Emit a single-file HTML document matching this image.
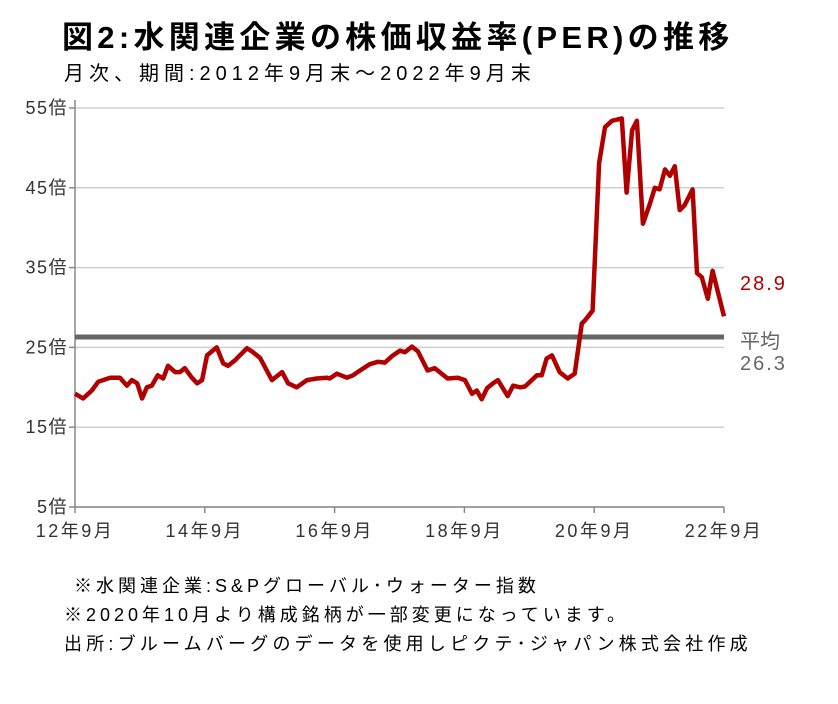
<!DOCTYPE html>
<html><head><meta charset="utf-8">
<style>
body{margin:0;background:#fff;width:838px;height:704px;overflow:hidden;font-family:"Liberation Sans","Noto Sans CJK JP",sans-serif;}
svg{display:block}
</style></head><body>
<svg width="838" height="704">
<text x="62" y="48" font-size="31" font-weight="bold" letter-spacing="4.3" fill="#000">図2:水関連企業の株価収益率(PER)の推移</text>
<text x="64" y="80" font-size="20" letter-spacing="5" fill="#000">月次、期間:2012年9月末～2022年9月末</text>
<g id="grid"></g><g id="axes"></g><g id="series"></g>
<text x="740" y="290" font-size="20" letter-spacing="2" fill="#b00000">28.9</text>
<text x="740" y="348" font-size="20" fill="#666">平均</text>
<text x="740" y="370" font-size="20" letter-spacing="2" fill="#666">26.3</text>
<text x="74" y="592" font-size="18" letter-spacing="4">※水関連企業:S&amp;Pグローバル･ウォーター指数</text>
<text x="64" y="621" font-size="18" letter-spacing="4">※2020年10月より構成銘柄が一部変更になっています。</text>
<text x="64" y="650" font-size="18" letter-spacing="4.2">出所:ブルームバーグのデータを使用しピクテ･ジャパン株式会社作成</text>
</svg>
<script>
const yTicks=[5,15,25,35,45,55];
const xTickMonths=[0,24,48,72,96,120];
const xTickLabels=["12年9月","14年9月","16年9月","18年9月","20年9月","22年9月"];
const months=[0,1.5,3.1,4.3,6.5,8.3,9.6,10.5,11.5,12.4,13.3,14.2,15.3,16.3,17.2,18.5,19.4,20.3,21.6,22.6,23.5,24.4,26.2,27.4,28.3,29.6,31.8,32.7,34.2,36.4,38.3,39.4,41.0,42.9,44.7,46.6,47.1,48.4,50.3,51.4,52.7,54.5,56.0,57.3,58.6,60.1,61.0,62.3,63.4,65.2,66.5,68.9,70.8,72.1,73.4,74.3,75.2,76.2,77.3,78.2,80.0,81.0,82.3,83.2,85.4,86.3,87.2,88.2,89.6,91.1,92.4,93.7,94.3,95.7,96.9,98.0,99.3,101.1,102.0,103.0,103.9,105.0,106.3,107.2,108.1,109.1,110.0,110.9,111.8,112.7,114.2,115.0,115.9,117.0,117.9,120];
const perValues=[19.2,18.6,19.6,20.7,21.2,21.2,20.2,20.9,20.5,18.6,20.0,20.2,21.5,21.1,22.7,21.9,21.9,22.4,21.2,20.5,20.9,24.0,25.0,23.0,22.7,23.4,24.9,24.5,23.7,20.9,21.9,20.5,20.0,20.9,21.1,21.2,21.1,21.7,21.2,21.5,22.1,22.9,23.2,23.1,23.9,24.6,24.4,25.1,24.5,22.1,22.4,21.1,21.2,20.9,19.2,19.6,18.5,19.9,20.5,20.9,18.9,20.2,20.0,20.1,21.5,21.5,23.6,24.0,21.9,21.1,21.7,28.0,28.4,29.6,48.1,52.6,53.4,53.7,44.4,52.2,53.4,40.5,43.0,45.0,44.8,47.3,46.5,47.7,42.2,42.8,44.8,34.3,33.8,31.1,34.6,28.9];
const average=[26.3];
const X0=75,X1=724,Y0=507,Y1=108;
const xs=m=>X0+(X1-X0)*m/120;
const ys=v=>Y0-(Y0-Y1)*(v-5)/50;
const NS="http://www.w3.org/2000/svg";
function mk(p,t,a){const e=document.createElementNS(NS,t);for(const k in a)e.setAttribute(k,a[k]);p.appendChild(e);return e;}
const grid=document.getElementById('grid'),axes=document.getElementById('axes'),ser=document.getElementById('series');
yTicks.forEach(v=>{
 const l=mk(grid,'line',{x1:X0,x2:X1,y1:ys(v),y2:ys(v),stroke:'#d0d0d0','stroke-width':1.5});
 
 
 const tk=mk(axes,'line',{x1:X0-6,x2:X0,y1:ys(v),y2:ys(v),stroke:'#888','stroke-width':1.5});
 
 
 const t=mk(axes,'text',{x:X0-7,y:ys(v)+6,'text-anchor':'end','font-size':18,'letter-spacing':1.5,fill:'#333'});
 t.textContent=v+'倍';
 
 
});
const ya=mk(axes,'line',{x1:X0,x2:X0,y1:Y1-8,y2:Y0,stroke:'#888','stroke-width':1.5});


const xa=mk(axes,'line',{x1:X0,x2:X1,y1:Y0,y2:Y0,stroke:'#888','stroke-width':1.5});


xTickMonths.forEach((m,i)=>{
 const tk=mk(axes,'line',{x1:xs(m),x2:xs(m),y1:Y0,y2:Y0+6,stroke:'#888','stroke-width':1.5});
 
 
 const t=mk(axes,'text',{x:xs(m),y:Y0+30,'text-anchor':'middle','font-size':18,'letter-spacing':2.5,fill:'#333'});
 t.textContent=xTickLabels[i];
 
 
});
const avg=mk(ser,'line',{x1:X0,x2:X1,y1:ys(average[0]),y2:ys(average[0]),stroke:'#666','stroke-width':5});


const pts=months.map((m,i)=>xs(m).toFixed(1)+','+ys(perValues[i]).toFixed(1)).join(' ');
const pl=mk(ser,'polyline',{points:pts,fill:'none',stroke:'#b00000','stroke-width':4.5,'stroke-linejoin':'round'});


</script>
</body></html>
